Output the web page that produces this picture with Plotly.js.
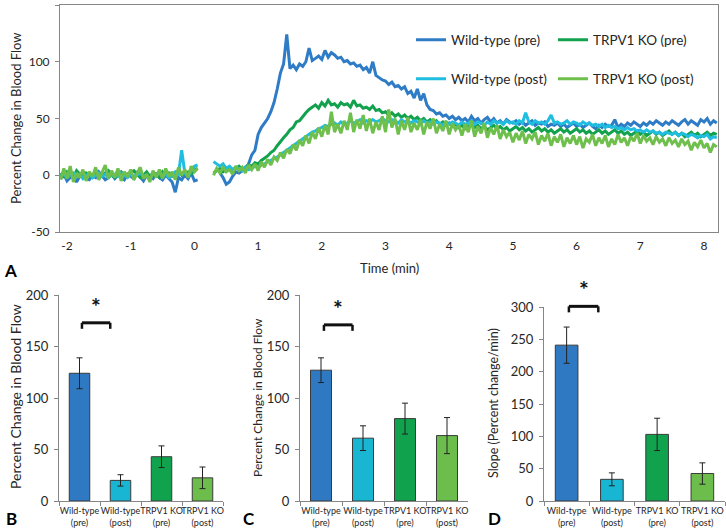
<!DOCTYPE html>
<html>
<head>
<meta charset="utf-8">
<script src="https://cdn.plot.ly/plotly-3.0.1.min.js"></script>
<style>html,body{margin:0;padding:0;background:#fff;}#chart{width:726px;height:532px;}</style>
</head>
<body>
<div id="chart"></div>
<script>
// ---------- Panel A: time course (sampled every 0.05 min from -2.10 min) ----------
const timeStart = -2.1;
const timeStep = 0.05;
const seriesNames = ['Wild-type (pre)', 'TRPV1 KO (pre)', 'Wild-type (post)', 'TRPV1 KO (post)'];

const wtPre = [
  -3, 1, -5, -2, 0, -6, -1, 2, -3, -4,
  0, -2, 3, -1, -4, -2, 1, -3, 0, -2,
  -4, 1, -1, -3, 2, -2, -5, 0, -1, -3,
  1, -2, -4, 0, -3, -6, -15, -2, -4, 0,
  -3, 2, -5, -4, null, null, null, null, null, null,
  2, -2, -8, -6, -1, 3, 2, 4, 5, 10,
  18, 22, 36, 42, 46, 50, 56, 64, 76, 90,
  98, 124, 94, 97, 93, 98, 96, 100, 112, 101,
  103, 105, 102, 110, 104, 108, 106, 103, 104, 100,
  101, 98, 99, 96, 97, 93, 95, 90, 100, 88,
  86, 84, 83, 80, 82, 78, 79, 76, 78, 72,
  74, 68, 76, 66, 72, 62, 58, 57, 54, 55,
  52, 53, 50, 52, 49, 51, 48, 50, 47, 52,
  48, 50, 46, 49, 51, 47, 50, 46, 48, 45,
  49, 47, 46, 48, 45, 47, 44, 46, 48, 44,
  46, 45, 47, 43, 45, 44, 46, 43, 45, 42,
  44, 46, 43, 45, 42, 44, 46, 43, 41, 44,
  42, 45, 43, 44, 49, 42, 45, 43, 46, 44,
  47, 45, 43, 46, 44, 47, 45, 48, 46, 44,
  47, 45, 48, 46, 44, 47, 49, 45, 48, 46,
  44, 49, 47, 50, 45, 48, 46
];
const koPre = [
  2, -1, 3, 0, -2, 4, 1, -1, 2, 0,
  -2, 3, 1, -1, 2, 4, 0, -2, 1, 3,
  0, -1, 2, 4, 1, -2, 0, 3, -1, 2,
  1, -2, 3, 0, 2, -1, 1, 4, 0, 2,
  3, 1, 5, 6, null, null, null, null, 2, 4,
  6, 3, 5, 7, 4, 6, 8, 5, 7, 9,
  8, 11, 10, 13, 15, 17, 20, 22, 26, 30,
  33, 36, 40, 42, 47, 48, 52, 55, 58, 60,
  62, 59, 64, 61, 66, 62, 63, 60, 64, 62,
  63, 60, 66, 61, 62, 59, 60, 58, 61, 57,
  58, 55, 56, 53, 55, 52, 54, 51, 53, 50,
  52, 49, 51, 48, 50, 47, 49, 46, 48, 45,
  47, 44, 46, 43, 45, 42, 44, 41, 43, 45,
  42, 44, 41, 43, 40, 42, 44, 41, 43, 40,
  42, 39, 41, 43, 40, 42, 39, 41, 38, 40,
  42, 39, 41, 38, 40, 37, 39, 41, 38, 40,
  37, 39, 41, 38, 40, 37, 39, 36, 38, 40,
  37, 39, 36, 38, 40, 37, 39, 36, 38, 35,
  37, 39, 36, 38, 35, 37, 39, 36, 38, 35,
  37, 39, 36, 38, 35, 37, 34, 36, 38, 35,
  37, 34, 36, 38, 35, 37, 36
];
const wtPost = [
  -1, 1, -2, 0, 2, -1, 1, -3, 0, 1,
  -2, 0, 2, -1, 1, -2, 0, 1, -1, 2,
  0, -2, 1, -1, 0, 2, -1, 0, -3, 1,
  0, 2, -1, 1, -2, 0, 3, 1, 22, 2,
  -1, 4, 8, 9, null, null, null, null, 12, 10,
  8, 10, 6, 8, 5, 7, 6, 4, 7, 5,
  6, 8, 7, 9, 10, 12, 13, 15, 16, 18,
  20, 22, 24, 26, 28, 30, 32, 34, 36, 38,
  39, 41, 42, 44, 43, 45, 46, 44, 47, 45,
  46, 48, 46, 47, 49, 46, 48, 47, 49, 47,
  48, 50, 48, 47, 49, 48, 46, 49, 47, 48,
  46, 48, 47, 45, 48, 46, 47, 45, 47, 46,
  44, 47, 45, 47, 46, 44, 47, 45, 46, 48,
  45, 47, 46, 44, 47, 45, 48, 46, 47, 45,
  48, 46, 47, 45, 48, 46, 55, 47, 45, 48,
  46, 47, 45, 48, 53, 46, 47, 45, 46, 48,
  45, 47, 46, 44, 47, 45, 46, 44, 45, 43,
  45, 42, 44, 42, 43, 41, 42, 40, 42, 40,
  41, 39, 40, 38, 40, 38, 39, 37, 38, 36,
  38, 37, 36, 38, 35, 37, 36, 34, 36, 35,
  33, 35, 34, 36, 32, 34, 33
];
const koPost = [
  -4, 6, -3, 8, -6, 2, -2, 5, -5, 3,
  -1, 7, -4, 2, 9, -3, 4, -2, 6, -5,
  3, -1, 5, -4, 2, 7, -3, 1, -6, 4,
  -2, 5, -3, 6, -1, 3, -4, 7, 0, 5,
  -2, 8, 3, 6, null, null, null, null, 0, 6,
  2, 7, 3, 5, 1, 8, 4, 7, 2, 9,
  5, 10, 4, 12, 7, 14, 9, 16, 13, 20,
  15, 23, 19, 27, 22, 31, 26, 35, 28, 38,
  32, 42, 34, 44, 36, 56, 38, 45, 37, 48,
  40, 55, 38, 49, 41, 53, 39, 50, 37, 47,
  40, 52, 38, 58, 42, 50, 36, 48, 40, 51,
  38, 46, 40, 49, 36, 47, 41, 50, 37, 45,
  39, 48, 36, 46, 40, 44, 35, 45, 38, 48,
  34, 43, 37, 46, 33, 42, 36, 44, 32, 40,
  34, 38, 29, 37, 31, 39, 28, 36, 32, 38,
  27, 35, 30, 37, 26, 34, 29, 36, 25, 33,
  28, 35, 27, 34, 24, 32, 29, 36, 26, 33,
  28, 35, 25, 32, 27, 36, 29, 33, 26, 34,
  30, 37, 28, 35, 30, 33, 27, 34, 29, 32,
  26, 33, 28, 31, 25, 32, 27, 30, 22, 29,
  25, 31, 24, 28, 20, 27, 25
];
const timeTicks = [-2, -1, 0, 1, 2, 3, 4, 5, 6, 7, 8];
const timeTickLabels = ['-2', '-1', '0', '1', '2', '3', '4', '5', '6', '7', '8'];
const flowTicks = [-50, 0, 50, 100, 150];
const flowTickLabels = ['-50', '0', '50', '100', '150'];

// ---------- Panels B, C, D: bar summaries ----------
const groups = ['Wild-type<br>(pre)', 'Wild-type<br>(post)', 'TRPV1 KO<br>(pre)', 'TRPV1 KO<br>(post)'];
const peakMean = [124, 20, 43, 22.5];
const peakErr = [15, 5.5, 10.5, 10.5];
const plateauMean = [127, 61, 80, 63.5];
const plateauErr = [12, 12, 15, 17.5];
const slopeMean = [241, 33.5, 103, 42.5];
const slopeErr = [28, 10, 25, 16.5];

// ---------- styling ----------
const lineColors = ['#2f7cc6', '#12a24e', '#1fbde0', '#6fbf4c'];
const barColors = ['#2e79c2', '#19b6d4', '#10a24d', '#6dbd4c'];
const FONT = 'Lato, "Open Sans", sans-serif';
const W = 726, H = 532;
const px = v => v / W;
const py = v => 1 - v / H;
const axisGray = '#868686';
const textCol = '#262626';

const time = wtPre.map((_, i) => +(timeStart + i * timeStep).toFixed(2));
const lineSeries = [wtPre, koPre, wtPost, koPost];

const traces = lineSeries.map((vals, k) => ({
  type: 'scatter', mode: 'lines', x: time, y: vals,
  name: seriesNames[k], connectgaps: false,
  line: {color: lineColors[k], width: 3},
  xaxis: 'x', yaxis: 'y',
  legend: k === 0 ? 'legend' : 'legend' + (k + 1),
  showlegend: true
}));

const panels = [
  {ax: 2, mean: peakMean, err: peakErr},
  {ax: 3, mean: plateauMean, err: plateauErr},
  {ax: 4, mean: slopeMean, err: slopeErr}
];
panels.forEach(p => {
  traces.push({
    type: 'bar', x: groups, y: p.mean, width: 0.5,
    xaxis: 'x' + p.ax, yaxis: 'y' + p.ax, showlegend: false,
    marker: {color: barColors, line: {color: '#3a3a3a', width: 1}},
    error_y: {type: 'data', array: p.err, visible: true, color: '#222', thickness: 1, width: 3}
  });
});

// subplot domains (pixel based)
const dom = {
  x:  [px(60), px(718)],  y:  [py(232), py(5)],
  x2: [px(59), px(223)],  y2: [py(501), py(295)],
  x3: [px(300), px(468)], y3: [py(501), py(295)],
  x4: [px(544), px(725)], y4: [py(501), py(307)]
};
const yr = {y2: [0, 200], y3: [0, 200], y4: [0, 300]};

function barX(id) {
  return {
    domain: dom[id], type: 'category', anchor: 'y' + id.slice(1),
    showline: true, linecolor: axisGray, linewidth: 1,
    ticks: 'outside', tickson: 'boundaries', ticklen: 4, tickcolor: axisGray,
    tickangle: 0, ticklabelstandoff: 1,
    tickfont: {size: 9, color: textCol, family: FONT},
    showgrid: false, zeroline: false, fixedrange: true
  };
}
function barY(id, dt) {
  return {
    domain: dom[id], range: yr[id], dtick: dt, anchor: 'x' + id.slice(1),
    showline: true, linecolor: axisGray, linewidth: 1,
    ticks: 'outside', ticklen: 4, tickcolor: axisGray, ticklabelstandoff: 3,
    tickfont: {size: 13, color: textCol, family: FONT},
    showgrid: false, zeroline: false, fixedrange: true
  };
}
// convert a data value on a bar panel's y axis to paper coordinate
function yPaper(id, v) {
  const d = dom[id], r = yr[id];
  return d[0] + (v - r[0]) / (r[1] - r[0]) * (d[1] - d[0]);
}

const shapes = [];
const annotations = [];
// significance brackets
[{ax: 2, x0: 0.06, x1: 0.75, v: 173}, {ax: 3, x0: 0.07, x1: 0.75, v: 171}, {ax: 4, x0: 0.05, x1: 0.7, v: 301}].forEach(b => {
  const yid = 'y' + b.ax, xid = 'x' + b.ax;
  const yt = yPaper(yid, b.v);
  const yb = yt - 6 / H;
  shapes.push({type: 'line', xref: xid, yref: 'paper', x0: b.x0, x1: b.x1, y0: yt, y1: yt, line: {color: '#111', width: 3}});
  shapes.push({type: 'line', xref: xid, yref: 'paper', x0: b.x0, x1: b.x0, y0: yb, y1: yt, line: {color: '#111', width: 2.5}});
  shapes.push({type: 'line', xref: xid, yref: 'paper', x0: b.x1, x1: b.x1, y0: yb, y1: yt, line: {color: '#111', width: 2.5}});
  annotations.push({text: '<b>*</b>', xref: xid, yref: 'paper', x: (b.x0 + b.x1) / 2, y: yt + 1 / H,
    xanchor: 'center', yanchor: 'bottom', showarrow: false, font: {size: 23, color: '#111', family: FONT}});
});

function txt(text, x, y, size, opts) {
  annotations.push(Object.assign({text, xref: 'paper', yref: 'paper', x: px(x), y: py(y),
    showarrow: false, font: {size, color: textCol, family: FONT}}, opts || {}));
}
// axis titles
txt('Percent Change in Blood Flow', 16, 118, 13, {textangle: -90, xanchor: 'center', yanchor: 'middle'});
txt('Time (min)', 389, 268, 13, {xanchor: 'center', yanchor: 'middle'});
txt('Percent Change in Blood Flow', 15, 397, 14, {textangle: -90, xanchor: 'center', yanchor: 'middle'});
txt('Percent Change in Blood Flow', 257, 398, 12, {textangle: -90, xanchor: 'center', yanchor: 'middle'});
txt('Slope (Percent change/min)', 493, 403, 12.5, {textangle: -90, xanchor: 'center', yanchor: 'middle'});
// panel letters
const letterFont = {size: 17, color: '#000', family: FONT};
txt('<b>A</b>', 2, 270, 17, {xanchor: 'left', yanchor: 'middle', font: letterFont});
txt('<b>B</b>', 4, 518, 17, {xanchor: 'left', yanchor: 'middle', font: letterFont});
txt('<b>C</b>', 241, 518, 17, {xanchor: 'left', yanchor: 'middle', font: letterFont});
txt('<b>D</b>', 486, 518, 17, {xanchor: 'left', yanchor: 'middle', font: letterFont});

function leg(x, y) {
  return {x: px(x), y: py(y), xanchor: 'left', yanchor: 'middle', orientation: 'h',
    bgcolor: 'rgba(0,0,0,0)', borderwidth: 0, font: {size: 13.5, color: textCol, family: FONT}};
}

const layout = {
  width: W, height: H, margin: {l: 0, r: 0, t: 0, b: 0},
  paper_bgcolor: '#fff', plot_bgcolor: 'rgba(0,0,0,0)',
  font: {family: FONT, color: textCol},
  bargap: 0.5,
  legend: leg(411, 40), legend2: leg(553, 40), legend3: leg(411, 79), legend4: leg(553, 79),
  xaxis: {
    domain: dom.x, range: [-2.11, 8.22], tickvals: timeTicks, ticktext: timeTickLabels, anchor: 'y',
    showline: true, mirror: true, linecolor: axisGray, linewidth: 1, ticks: '', ticklabelstandoff: 3,
    tickfont: {size: 12, color: textCol, family: FONT}, showgrid: false, zeroline: false
  },
  yaxis: {
    domain: dom.y, range: [-50, 150], tickvals: flowTicks, ticktext: flowTickLabels, anchor: 'x',
    showline: true, mirror: true, linecolor: axisGray, linewidth: 1,
    ticks: 'outside', ticklen: 4, tickcolor: axisGray, ticklabelstandoff: 3,
    tickfont: {size: 12, color: textCol, family: FONT}, showgrid: false, zeroline: false
  },
  xaxis2: barX('x2'), yaxis2: barY('y2', 50),
  xaxis3: barX('x3'), yaxis3: barY('y3', 50),
  xaxis4: barX('x4'), yaxis4: barY('y4', 50),
  shapes, annotations
};

Plotly.newPlot('chart', traces, layout, {staticPlot: true, displayModeBar: false});
</script>
</body>
</html>
